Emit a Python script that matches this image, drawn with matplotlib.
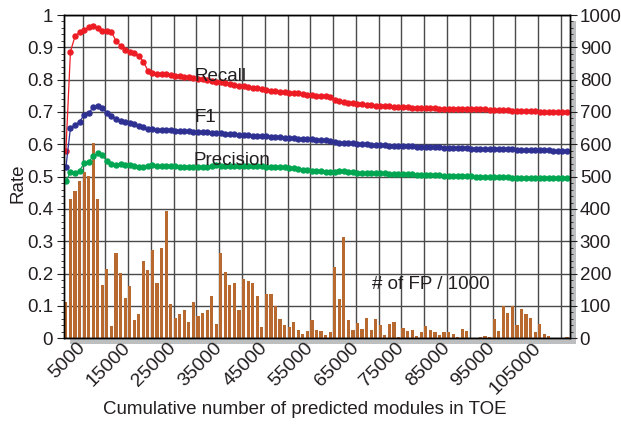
import matplotlib
matplotlib.use("Agg")
import matplotlib.pyplot as plt
from matplotlib.patches import Rectangle
from matplotlib.ticker import MultipleLocator, FixedLocator
import numpy as np

# cumulative number of predicted modules (one sample every 1000)
modules = np.arange(1000, 111001, 1000)

recall = [
    0.580, 0.887, 0.934, 0.946, 0.954, 0.962, 0.967, 0.961, 0.952, 0.950,
    0.947, 0.920, 0.905, 0.893, 0.887, 0.881, 0.873, 0.856, 0.828, 0.821,
    0.816, 0.819, 0.816, 0.814, 0.812, 0.810, 0.809, 0.807, 0.805, 0.803,
    0.801, 0.799, 0.797, 0.794, 0.792, 0.790, 0.787, 0.784, 0.781, 0.779,
    0.777, 0.775, 0.773, 0.770, 0.768, 0.766, 0.764, 0.762, 0.761, 0.760,
    0.759, 0.758, 0.756, 0.754, 0.752, 0.750, 0.749, 0.748, 0.747, 0.737,
    0.733, 0.731, 0.729, 0.727, 0.726, 0.724, 0.722, 0.721, 0.720, 0.719,
    0.718, 0.717, 0.716, 0.716, 0.715, 0.714, 0.713, 0.713, 0.712, 0.712,
    0.711, 0.711, 0.710, 0.710, 0.710, 0.710, 0.709, 0.709, 0.709, 0.709,
    0.708, 0.708, 0.708, 0.707, 0.707, 0.706, 0.706, 0.705, 0.704, 0.703,
    0.703, 0.702, 0.702, 0.702, 0.701, 0.701, 0.701, 0.700, 0.700, 0.700,
    0.700,
]

f1 = [
    0.529, 0.651, 0.660, 0.670, 0.691, 0.697, 0.714, 0.718, 0.711, 0.697,
    0.687, 0.678, 0.673, 0.670, 0.666, 0.662, 0.658, 0.653, 0.647, 0.646,
    0.645, 0.644, 0.643, 0.643, 0.642, 0.642, 0.641, 0.640, 0.639, 0.638,
    0.637, 0.637, 0.636, 0.635, 0.634, 0.633, 0.632, 0.631, 0.630, 0.629,
    0.628, 0.627, 0.627, 0.626, 0.625, 0.624, 0.623, 0.622, 0.621, 0.620,
    0.619, 0.618, 0.617, 0.616, 0.615, 0.614, 0.613, 0.612, 0.611, 0.607,
    0.605, 0.605, 0.604, 0.603, 0.602, 0.601, 0.600, 0.599, 0.598, 0.597,
    0.597, 0.596, 0.596, 0.595, 0.595, 0.594, 0.594, 0.593, 0.593, 0.592,
    0.592, 0.591, 0.591, 0.590, 0.590, 0.589, 0.589, 0.588, 0.588, 0.587,
    0.587, 0.586, 0.586, 0.585, 0.585, 0.585, 0.584, 0.584, 0.584, 0.583,
    0.583, 0.582, 0.582, 0.582, 0.581, 0.581, 0.581, 0.580, 0.580, 0.580,
    0.579,
]

precision = [
    0.485, 0.514, 0.511, 0.519, 0.541, 0.545, 0.564, 0.572, 0.566, 0.548,
    0.539, 0.537, 0.538, 0.536, 0.537, 0.533, 0.530, 0.531, 0.532, 0.536,
    0.534, 0.533, 0.533, 0.532, 0.532, 0.531, 0.531, 0.530, 0.530, 0.530,
    0.529, 0.531, 0.534, 0.535, 0.534, 0.534, 0.533, 0.533, 0.533, 0.533,
    0.532, 0.532, 0.532, 0.532, 0.531, 0.531, 0.530, 0.530, 0.529, 0.528,
    0.527, 0.524, 0.522, 0.520, 0.518, 0.517, 0.516, 0.515, 0.514, 0.515,
    0.516, 0.516, 0.515, 0.513, 0.512, 0.512, 0.511, 0.511, 0.510, 0.510,
    0.510, 0.509, 0.509, 0.508, 0.508, 0.507, 0.507, 0.506, 0.506, 0.505,
    0.505, 0.504, 0.504, 0.503, 0.503, 0.502, 0.502, 0.501, 0.501, 0.501,
    0.500, 0.500, 0.499, 0.499, 0.499, 0.498, 0.498, 0.498, 0.497, 0.497,
    0.497, 0.497, 0.496, 0.496, 0.496, 0.496, 0.496, 0.495, 0.495, 0.495,
    0.495,
]

# number of false positives / 1000 (right axis)
fp = [
    111, 430, 456, 487, 513, 502, 603, 430, 165, 214,
    38, 264, 202, 125, 162, 57, 75, 239, 211, 273,
    171, 279, 394, 106, 63, 75, 88, 51, 112, 69,
    78, 88, 131, 44, 264, 205, 165, 171, 88, 184,
    177, 171, 131, 35, 137, 137, 100, 60, 41, 35,
    51, 26, 13, 23, 57, 26, 23, 10, 20, 221,
    121, 313, 57, 26, 47, 29, 63, 26, 60, 41,
    10, 44, 51, 3, 33, 24, 27, 8, 20, 39,
    27, 20, 11, 18, 20, 14, 5, 29, 24, 2,
    1, 5, 8, 5, 60, 24, 100, 78, 100, 42,
    91, 76, 63, 18, 45, 14, 8, 1, 0, 0,
    5,
]

x_ticks = list(range(5000, 105001, 10000))
x_labels = [str(v) for v in x_ticks]

TXT = "#231f20"
plt.rcParams["font.family"] = ["Liberation Sans", "DejaVu Sans"]
plt.rcParams["font.size"] = 13.5
plt.rcParams["text.color"] = TXT
plt.rcParams["xtick.color"] = TXT
plt.rcParams["ytick.color"] = TXT

W, H = 621, 424
fig = plt.figure(figsize=(W / 100, H / 100), dpi=100)

left, right, top, bottom = 64.3, 570.0, 15.0, 338.3
rect = [left / W, 1 - bottom / H, (right - left) / W, (bottom - top) / H]

# drop shadow behind the frame
sh = 5.5
fig.patches.append(Rectangle(((left + sh) / W, 1 - (bottom + sh) / H),
                             (right - left) / W, (bottom - top) / H,
                             transform=fig.transFigure, facecolor="#bcbec0",
                             edgecolor="none", zorder=0.5))

ax2 = fig.add_axes(rect, zorder=1)   # bars, right axis, grid
ax = fig.add_axes(rect, zorder=2)    # rates, left axis
ax.patch.set_visible(False)

xlim = (1000, 112000)
bar_w = 700
ax2.bar(modules, fp, width=bar_w, align="edge", color="#b8692f", zorder=2)
ax2.set_xlim(*xlim)
ax2.set_ylim(0, 1000)
ax2.yaxis.tick_right()
ax2.yaxis.set_major_locator(MultipleLocator(100))
ax2.yaxis.set_minor_locator(MultipleLocator(20))
ax2.xaxis.set_major_locator(FixedLocator(x_ticks))
ax2.xaxis.set_minor_locator(FixedLocator(range(10000, 110001, 10000)))
ax2.set_axisbelow(True)
ax2.grid(True, which="major", axis="y", color="#4a4a4a", linewidth=1.0)
ax2.grid(True, which="both", axis="x", color="#4a4a4a", linewidth=1.0)
ax2.tick_params(axis="y", which="major", direction="out", length=5, width=0.8, pad=2)
ax2.tick_params(axis="y", which="minor", direction="out", length=2.5, width=0.6)
ax2.tick_params(axis="x", which="both", length=0, labelbottom=False)

centres = modules + bar_w / 2
mk = dict(marker="o", markersize=3.6, linewidth=0.9)
ax.plot(centres, recall, color="#ed1c24", **mk)
ax.plot(centres, f1, color="#2e3192", **mk)
ax.plot(centres, precision, color="#00a651", **mk)

ax.set_xlim(*xlim)
ax.set_ylim(0, 1)
ax.yaxis.set_major_locator(MultipleLocator(0.1))
ax.yaxis.set_minor_locator(MultipleLocator(0.02))
ax.yaxis.set_major_formatter(lambda v, p: f"{v:.1f}".rstrip("0").rstrip(".") if v else "0")
ax.tick_params(axis="y", which="major", direction="out", length=5, width=0.8, pad=3)
ax.tick_params(axis="y", which="minor", direction="out", length=2.5, width=0.6)
ax.tick_params(axis="x", which="both", length=0, pad=5)
ax.set_xticks(x_ticks)
ax.set_xticklabels(x_labels, rotation=45, ha="right", va="center",
                   rotation_mode="anchor", fontsize=14)

for a in (ax, ax2):
    for s in a.spines.values():
        s.set_color("black")
        s.set_linewidth(1.0)

ax.text(29500, 0.811, "Recall", va="center", ha="left")
ax.text(29500, 0.684, "F1", va="center", ha="left")
ax.text(29250, 0.551, "Precision", va="center", ha="left")
ax.text(68500, 0.165, "# of FP / 1000", va="center", ha="left")

fig.text(305 / W, 1 - 410 / H, "Cumulative number of predicted modules in TOE",
         ha="center", va="center")
fig.text(18 / W, 1 - 183 / H, "Rate", rotation=90, ha="center", va="center")

fig.savefig("out.png", dpi=100)
